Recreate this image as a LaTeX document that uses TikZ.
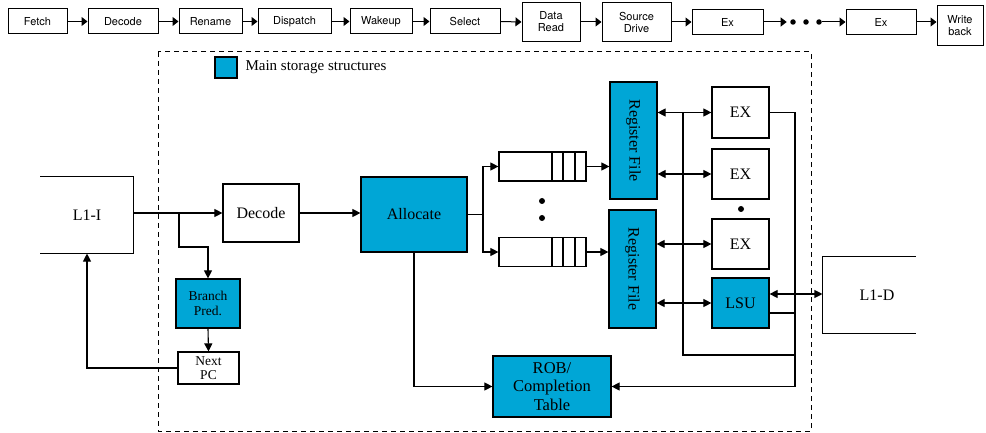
\documentclass[tikz,border=0pt]{standalone}
\usepackage{fontspec}
\usepackage{graphicx}
\setmainfont{Liberation Serif}
\newfontfamily\pipefont{TeX Gyre Heros}
\usetikzlibrary{arrows.meta}
\definecolor{stor}{RGB}{0,166,214}
\begin{document}
\begin{tikzpicture}[x=1pt,y=-1pt,line width=1.1pt,
  pbox/.style={draw,line width=1pt,inner sep=0pt,align=center,font=\pipefont\fontsize{11}{12}\selectfont},
  mbox/.style={draw,line width=1.2pt,inner sep=0pt,align=center,font=\fontsize{16}{18.5}\selectfont},
  store/.style={mbox,fill=stor},
  arr/.style={-{Triangle[length=8pt,width=8pt]}},
  darr/.style={{Triangle[length=8pt,width=8pt]}-{Triangle[length=8pt,width=8pt]}},
  parr/.style={line width=1pt,-{Triangle[length=6pt,width=9pt]}},
  dotn/.style={circle,fill=black,inner sep=0pt,minimum size=5.5pt}]
\useasboundingbox (0,0) rectangle (986,433);
% pipeline
\node[pbox,minimum width=59pt,minimum height=25pt] (p1) at (37.5,21.5) {Fetch};
\node[pbox,minimum width=70pt,minimum height=25pt] (p2) at (123,21.5) {Decode};
\node[pbox,minimum width=63pt,minimum height=25pt] (p3) at (210.5,21.5) {Rename};
\node[pbox,minimum width=73pt,minimum height=25pt] (p4) at (294.5,21.5) {Dispatch};
\node[pbox,minimum width=62pt,minimum height=25pt] (p5) at (381,21.5) {Wakeup};
\node[pbox,minimum width=70pt,minimum height=25pt] (p6) at (465,21.5) {Select};
\node[pbox,minimum width=58pt,minimum height=39pt] (p7) at (551,22) {Data\\Read};
\node[pbox,minimum width=69pt,minimum height=39pt] (p8) at (636.5,22) {Source\\Drive};
\node[pbox,minimum width=71pt,minimum height=25pt] (p9) at (727.5,22) {Ex};
\node[dotn] (pd1) at (793,22) {};
\node[dotn] (pd2) at (806,22) {};
\node[dotn] (pd3) at (819,22) {};
\node[pbox,minimum width=70pt,minimum height=25pt] (p10) at (881,22) {Ex};
\node[pbox,minimum width=46pt,minimum height=40pt] (p11) at (960,26) {Write\\back};
\foreach \a/\b in {p1/p2,p2/p3,p3/p4,p4/p5,p5/p6,p6/p7,p7/p8,p8/p9}
  \draw[parr] (\a.east) -- (\b.west);
\draw[parr] (p9.east) -- ([xshift=-3pt]pd1.west);
\draw[parr] (pd3.east) -- (p10.west);
\draw[parr] (p10.east) -- (p10.east -| p11.west);
% main frame
\draw[line width=1pt,dash pattern=on 5pt off 4pt] (158,52) rectangle (811,431);
\node[store,minimum width=22pt,minimum height=21pt] (leg) at (226,67.5) {};
\node[anchor=west,inner sep=0pt,font=\fontsize{15}{17}\selectfont] (legt) at (245,67.5) {Main storage structures};
% L1-I
\node[minimum width=92pt,minimum height=76pt,inner sep=0pt,font=\fontsize{16}{18}\selectfont] (l1i) at (87,215) {L1-I};
\draw[line width=1.2pt] (l1i.north west) -- (l1i.north east) -- (l1i.south east) -- (l1i.south west);
% boxes
\node[mbox,minimum width=76pt,minimum height=58pt] (dec) at (261,213) {Decode};
\node[store,minimum width=64pt,minimum height=49pt,font=\fontsize{13.5}{15.5}\selectfont] (bp) at (208,303.5) {Branch\\Pred.};
\node[mbox,minimum width=61pt,minimum height=32pt,font=\fontsize{13.5}{14}\selectfont] (np) at (208.5,368) {Next\\PC};
\node[store,minimum width=106pt,minimum height=75pt] (alloc) at (414,214.5) {Allocate};
\node[mbox,minimum width=87pt,minimum height=29pt] (q1) at (542.5,166.5) {};
\node[mbox,minimum width=87pt,minimum height=29pt] (q2) at (542.5,252) {};
\foreach \x in {552,563,575} {
  \draw (q1.north -| \x,0) -- (q1.south -| \x,0);
  \draw (q2.north -| \x,0) -- (q2.south -| \x,0);
}
\node[dotn,minimum size=6pt] (qd1) at (542,201) {};
\node[dotn,minimum size=6pt] (qd2) at (542,218) {};
\node[store,minimum width=47pt,minimum height=117pt] (rf1) at (633.5,140.5) {\rotatebox{-90}{Register File}};
\node[store,minimum width=47pt,minimum height=118pt] (rf2) at (632.5,269) {\rotatebox{-90}{Register File}};
\node[mbox,minimum width=57pt,minimum height=51pt] (ex1) at (740.5,112.5) {EX};
\node[mbox,minimum width=57pt,minimum height=50pt] (ex2) at (740.5,174) {EX};
\node[dotn,minimum size=6pt] (exd) at (741,209) {};
\node[mbox,minimum width=57pt,minimum height=50pt] (ex3) at (740.5,244) {EX};
\node[store,minimum width=57pt,minimum height=50pt] (lsu) at (740.5,303) {LSU};
\node[minimum width=92pt,minimum height=76pt,inner sep=0pt] (l1d) at (869,295) {};
\node[font=\fontsize{16}{18}\selectfont] (l1dt) at (877,295) {L1-D};
\draw[line width=1.2pt] (l1d.north east) -- (l1d.north west) -- (l1d.south west) -- (l1d.south east);
\node[store,minimum width=118pt,minimum height=61pt,font=\fontsize{16.5}{18.5}\selectfont] (rob) at (552,386.5) {ROB/\\Completion\\Table};
% connectors
\draw[arr] (dec.west -| l1i.east) -- (dec.west);
\coordinate (bj) at (179,213);
\draw[arr] (bj) -- (179,247) -| (bp.north);
\draw[arr] (bp.south) -- (np.north);
\draw[arr] (np.west) -| (l1i.south);
\draw[arr] (dec.east) -- (dec.east -| alloc.west);
\coordinate (aj) at (483,214.5);
\draw (alloc.east) -- (aj);
\draw[arr] (aj) |- (q1.west);
\draw[arr] (aj) |- (q2.west);
\draw[arr] (q1.east) -- (q1.east -| rf1.west);
\draw[arr] (q2.east) -- (q2.east -| rf2.west);
\draw[darr] (ex1.west -| rf1.east) -- (ex1.west);
\draw[darr] (ex2.west -| rf1.east) -- (ex2.west);
\draw[darr] (ex3.west -| rf2.east) -- (ex3.west);
\draw[darr] (lsu.west -| rf2.east) -- (lsu.west);
\draw (ex1.west -| 683,0) -- (683,355) -- (795,355);
\draw[arr] (ex1.east) -| (rob.east -| 795,0) -- (rob.east);
\draw ([yshift=-10pt]lsu.east) -- ([yshift=-10pt]lsu.east -| 795,0);
\draw[darr] ([yshift=9pt]lsu.east) -- ([yshift=9pt]lsu.east -| l1d.west);
\draw[arr] (alloc.south) |- (rob.west);
\end{tikzpicture}
\end{document}
